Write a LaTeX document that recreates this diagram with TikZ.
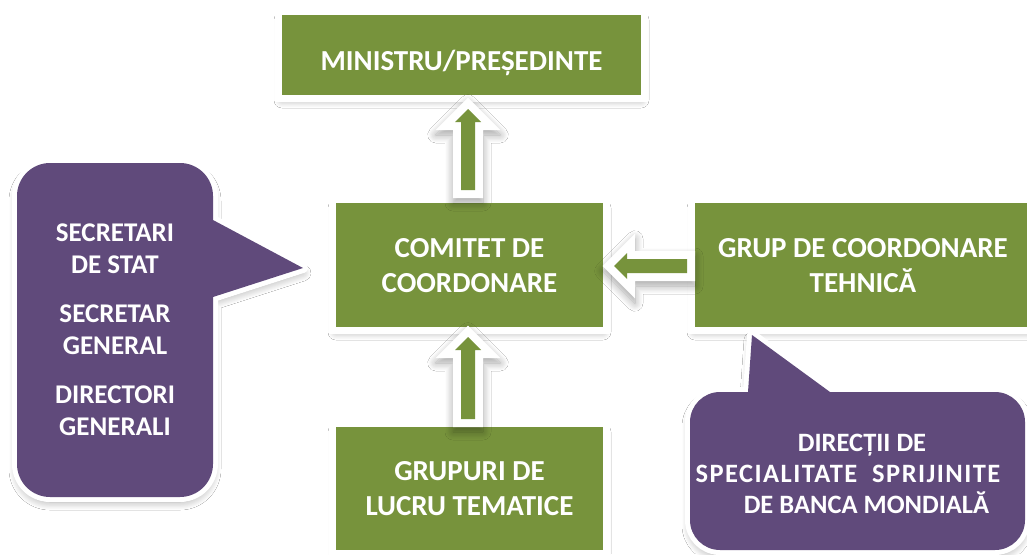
\documentclass[tikz,border=0pt]{standalone}
\usepackage{fontspec}
\setmainfont{Carlito}
\usetikzlibrary{calc,shadows.blur}
\definecolor{ogreen}{HTML}{77933C}
\definecolor{ppurple}{HTML}{604A7B}
\tikzset{
  ashadow/.style={blur shadow={shadow xshift=0pt, shadow yshift=-5pt, shadow blur radius=8pt, shadow opacity=35, shadow blur steps=10}},
  gbox/.style={rectangle, fill=ogreen, inner sep=0pt, outer sep=0pt, ashadow,
    preaction={draw=white, line width=14pt}, text=white, align=center,
    font=\bfseries\fontsize{29}{35}\selectfont, text depth=0pt},
  callout/.style={fill=ppurple, ashadow, preaction={draw=white, line width=10pt, line join=round}},
  ptxt/.style={text=white, align=center, inner sep=0pt, text depth=0pt},
}
\newcommand\upblock[2]{%
  \fill[white, ashadow, shift={(#1)}] (0,-11.31) -- (32.31,21) -- (15,21) -- (15,#2+8) -- (-15,#2+8) -- (-15,21) -- (-32.31,21) -- cycle;
  \fill[ogreen, shift={(#1)}] (0,0) -- (13,13) -- (7,13) -- (7,#2) -- (-7,#2) -- (-7,13) -- (-13,13) -- cycle;}
\newcommand\leftblock[2]{%
  \fill[white, ashadow, shift={(#1)}] (-11.31,0) -- (21,-32.31) -- (21,-15) -- (#2+8,-15) -- (#2+8,15) -- (21,15) -- (21,32.31) -- cycle;
  \fill[ogreen, shift={(#1)}] (0,0) -- (13,-13) -- (13,-7) -- (#2,-7) -- (#2,7) -- (13,7) -- (13,13) -- cycle;}
\begin{document}
\begin{tikzpicture}[x=1pt, y=-1pt]
\useasboundingbox (0,0) rectangle (1027,554);
\fill[white] (0,0) rectangle (1027,554);

% boxes
\node[gbox, minimum width=359pt, minimum height=80pt, text height=31pt] (ministru) at (461.5,55) {MINISTRU/PREȘEDINTE};
\node[gbox, minimum width=267pt, minimum height=124pt] (comitet) at (469.5,265) {COMITET DE\\COORDONARE};
\node[gbox, minimum width=267pt, minimum height=123pt] (grupuri) at (469.5,488.5) {GRUPURI DE\\LUCRU TEMATICE};
\node[gbox, minimum width=336pt, minimum height=124pt] (grup) at (863,265) {GRUP DE COORDONARE\\TEHNICĂ};

% block arrows
\coordinate (t1) at ($(ministru.south -| comitet.north)+(-1.5,14)$);
\upblock{t1}{81}
\coordinate (t2) at ($(comitet.south)+(-1.5,10)$);
\upblock{t2}{82}
\coordinate (t3) at ($(comitet.east)+(11,1)$);
\leftblock{t3}{73}

% callouts
\path[callout] (50,163) -- (180,163) arc[start angle=270, end angle=360, radius=33]
  -- (213,220) -- (303,268) -- (213,297) -- (213,464) arc[start angle=0, end angle=90, radius=33]
  -- (50,497) arc[start angle=90, end angle=180, radius=33]
  -- (17,196) arc[start angle=180, end angle=270, radius=33] -- cycle;
\node[ptxt, font=\bfseries\fontsize{27}{32}\selectfont] (sec) at (115,330)
  {SECRETARI\\DE STAT\\[17pt]SECRETAR\\GENERAL\\[17pt]DIRECTORI\\GENERALI};

\path[callout] (720,392) -- (748,392) -- (752,335) -- (830,392) -- (995,392)
  arc[start angle=270, end angle=360, radius=30] -- (1025,520)
  arc[start angle=0, end angle=90, radius=30] -- (720,550)
  arc[start angle=90, end angle=180, radius=30] -- (690,422)
  arc[start angle=180, end angle=270, radius=30] -- cycle;
\node[ptxt, font=\bfseries\fontsize{26.5}{31}\selectfont] (dir) at (862,473.5)
  {DIRECȚII DE\\{\addfontfeature{LetterSpace=5.5}SPECIALITATE~ SPRIJINITE}\kern28pt\relax\\\hspace*{9pt}DE BANCA MONDIALĂ};
\end{tikzpicture}
\end{document}
